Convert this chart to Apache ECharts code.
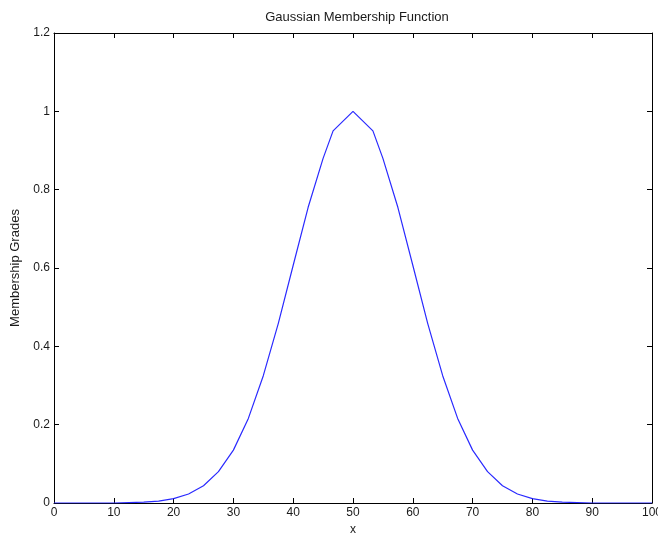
<!DOCTYPE html>
<html>
<head>
<meta charset="utf-8">
<script src="https://cdn.jsdelivr.net/npm/echarts@6/dist/echarts.min.js"></script>
<style>html,body{margin:0;padding:0;background:#fff;overflow:hidden;}#c{width:658px;height:533px;}</style>
</head>
<body>
<div id="c"></div>
<script>
var titleText = 'Gaussian Membership Function';
var xName = 'x';
var yName = 'Membership Grades';
var xValues = [0, 2.5, 5, 7.5, 10, 12.5, 15, 17.5, 20, 22.5, 25, 27.5, 30, 32.5, 35, 37.5, 40, 42.5, 45, 46.67,
               50,
               53.33, 55, 57.5, 60, 62.5, 65, 67.5, 70, 72.5, 75, 77.5, 80, 82.5, 85, 87.5, 90, 92.5, 95, 97.5, 100];
var yValues = [0, 0, 0, 0, 0, 0.001, 0.002, 0.005, 0.011, 0.023, 0.044, 0.080, 0.135, 0.216, 0.325, 0.458, 0.607, 0.755, 0.88, 0.95,
               1.0,
               0.95, 0.88, 0.755, 0.607, 0.458, 0.325, 0.216, 0.135, 0.080, 0.044, 0.023, 0.011, 0.005, 0.002, 0.001, 0, 0, 0, 0, 0];

var font = 'Liberation Sans, Arial, sans-serif';
var txt = '#1a1a1a';
var chart = echarts.init(document.getElementById('c'), null, {renderer: 'canvas'});
var axisLine = {show: true, onZero: false, lineStyle: {color: '#000', width: 1}};
var tick = {show: true, inside: true, length: 5, lineStyle: {color: '#000'}};
chart.setOption({
  animation: false,
  backgroundColor: '#fff',
  title: {text: titleText, left: 352, top: 6, textAlign: 'center',
          textStyle: {fontFamily: font, fontSize: 13, fontWeight: 'normal', color: txt}},
  grid: {left: 54, top: 33, right: 6, bottom: 30, containLabel: false, outerBoundsMode: 'none'},
  xAxis: [
    {type: 'value', min: 0, max: 100, interval: 10, position: 'bottom',
     name: xName, nameLocation: 'middle', nameGap: 21,
     nameTextStyle: {fontFamily: font, fontSize: 12, color: txt},
     axisLine: axisLine, axisTick: tick, splitLine: {show: false},
     axisLabel: {margin: 4, fontFamily: font, fontSize: 12, color: txt, hideOverlap: false}},
    {type: 'value', min: 0, max: 100, interval: 10, position: 'top',
     axisLine: axisLine, axisTick: tick, splitLine: {show: false}, axisLabel: {show: false}}
  ],
  yAxis: [
    {type: 'value', min: 0, max: 1.2, interval: 0.2, position: 'left',
     name: yName, nameLocation: 'middle', nameGap: 29,
     nameTextStyle: {fontFamily: font, fontSize: 13, color: txt},
     axisLine: axisLine, axisTick: tick, splitLine: {show: false},
     axisLabel: {margin: 4, fontFamily: font, fontSize: 12, color: txt,
                 formatter: function (v) { return String(+v.toFixed(1)); }}},
    {type: 'value', min: 0, max: 1.2, interval: 0.2, position: 'right',
     axisLine: axisLine, axisTick: tick, splitLine: {show: false}, axisLabel: {show: false}}
  ],
  series: [{
    type: 'line', xAxisIndex: 0, yAxisIndex: 0,
    data: xValues.map(function (x, i) { return [x, yValues[i]]; }),
    showSymbol: false, smooth: false,
    lineStyle: {color: '#2a2aff', width: 1.2}
  }]
});
</script>
</body>
</html>
